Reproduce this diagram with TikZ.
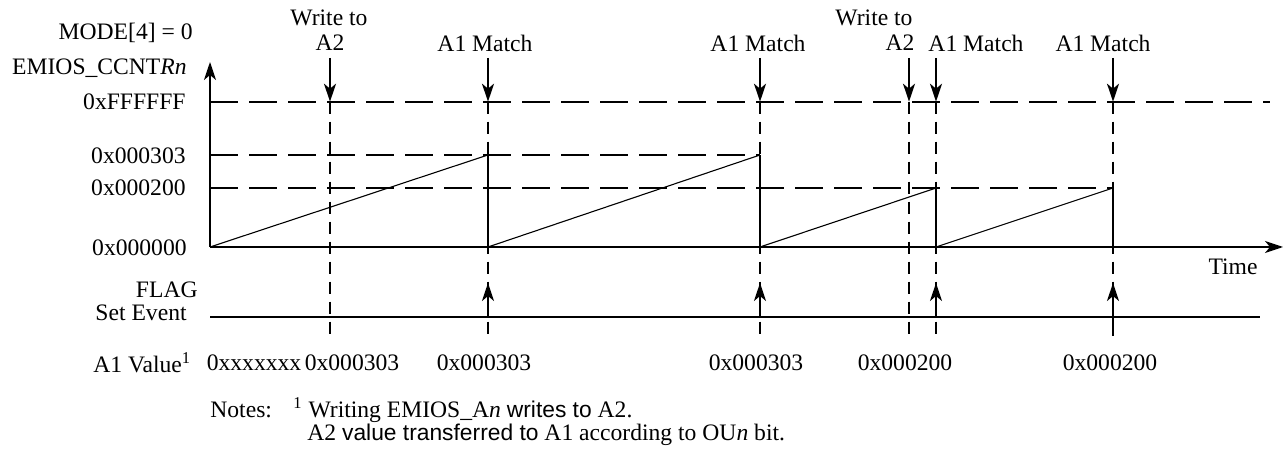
\documentclass[tikz,border=0pt]{standalone}
\usepackage{fontspec}
\setmainfont{Liberation Serif}
\newfontfamily\notesans{Liberation Sans}
\usetikzlibrary{arrows.meta,positioning}
\tikzset{
  axisline/.style={line width=1pt},
  ramp/.style={line width=0.55pt},
  level/.style={line width=1pt, dash pattern=on 14pt off 5.5pt},
  eventline/.style={line width=1pt, dash pattern=on 6pt off 4pt},
  evarrow/.style={-{Stealth[length=9pt, width=6pt, inset=2.5pt]}, line width=1pt},
  lbl/.style={inner sep=0pt, font=\fontsize{11.8}{12.5}\selectfont},
  ylbl/.style={lbl, anchor=east},
  notelbl/.style={lbl, anchor=west}
}

\begin{document}
\begin{tikzpicture}[x=0.5pt, y=-0.5pt]
\useasboundingbox (0,0) rectangle (1283,458);
% levels and events
\coordinate (origin) at (210,247);
\coordinate (ymax) at (210,62);
\coordinate (tmax) at (1283,247);
\coordinate (top) at (0,58);
\coordinate (ff) at (0,101.7);
\coordinate (ffR) at (1270,101.7);
\coordinate (h303) at (0,155);
\coordinate (h200) at (0,188);
\coordinate (flag) at (0,317);
\coordinate (flagR) at (1260,317);
\coordinate (ftip) at (0,283);
\coordinate (low) at (0,336);
\coordinate (wrA) at (330,247);
\coordinate (mtA) at (488,247);
\coordinate (mtB) at (760,247);
\coordinate (wrB) at (909,247);
\coordinate (mtC) at (936,247);
\coordinate (mtD) at (1113,247);

% y axis labels
\node[ylbl] (mode) at (193,33) {MODE[4] = 0};
\node[ylbl] (ccntr) at (187,68) {EMIOS\_CCNT\textit{Rn}};
\node[ylbl] (vff) at (186,101.7) {0xFFFFFF};
\node[ylbl] (v303) at (186,156) {0x000303};
\node[ylbl] (v200) at (186,188) {0x000200};
\node[ylbl] (v000) at (187,248) {0x000000};
\node[ylbl] (flagtxt) at (198,290) {FLAG};
\node[ylbl] (settxt) at (187,313) {Set Event};
\node[lbl] (time) at (1233,267) {Time};

% event labels
\node[lbl] (wrAtxt) at (329,18) {Write to};
\node[lbl] (wrAa2) at (330,43) {A2};
\node[lbl] (mtAtxt) at (485,43) {A1 Match};
\node[lbl] (mtBtxt) at (758,43) {A1 Match};
\node[lbl] (wrBtxt) at (874,18) {Write to};
\node[lbl] (wrBa2) at (900,43) {A2};
\node[lbl] (mtCtxt) at (976,43) {A1 Match};
\node[lbl] (mtDtxt) at (1103,43) {A1 Match};

% level lines
\draw[level] (origin |- ff) -- (ffR);
\draw[level] (origin |- h303) -- (mtB |- h303);
\draw[level] (origin |- h200) -- (mtD |- h200);

% event lines
\draw[eventline] (wrA |- ff) -- (wrA |- low);
\draw[eventline] (mtA |- ff) -- (mtA |- low);
\draw[eventline] (mtB |- ff) -- (mtB |- low);
\draw[eventline] (wrB |- ff) -- (wrB |- low);
\draw[eventline] (mtC |- ff) -- (mtC |- low);
\draw[eventline] (mtD |- ff) -- (mtD |- low);

\draw[evarrow] (wrA |- top) -- (wrA |- ff);
\draw[evarrow] (mtA |- top) -- (mtA |- ff);
\draw[evarrow] (mtB |- top) -- (mtB |- ff);
\draw[evarrow] (wrB |- top) -- (wrB |- ff);
\draw[evarrow] (mtC |- top) -- (mtC |- ff);
\draw[evarrow] (mtD |- top) -- (mtD |- ff);

% counter
\draw[ramp] (origin) -- (mtA |- h303);
\draw[ramp] (mtA) -- (mtB |- h303);
\draw[ramp] (mtB) -- (mtC |- h200);
\draw[ramp] (mtC) -- (mtD |- h200);
\draw[axisline] (mtA |- h303) -- (mtA);
\draw[axisline] (mtB |- h303) -- (mtB);
\draw[axisline] (mtC |- h200) -- (mtC);
\draw[axisline] (mtD |- h200) -- (mtD);

% axes
\draw[axisline, -{Stealth[length=9pt, width=6pt, inset=2.5pt]}] (origin) -- (ymax);
\draw[axisline, -{Stealth[length=9pt, width=6pt, inset=2.5pt]}] (origin) -- (tmax);

% flag
\draw[axisline] (origin |- flag) -- (flagR);
\draw[evarrow] (mtA |- flag) -- (mtA |- ftip);
\draw[evarrow] (mtB |- flag) -- (mtB |- ftip);
\draw[evarrow] (mtC |- flag) -- (mtC |- ftip);
\draw[evarrow] (mtD |- low) -- (mtD |- ftip);

% A1 values
\node[notelbl] (a1val) at (93,363) {A1 Value\textsuperscript{1}};
\node[lbl] (val0) at (254,363) {0xxxxxxx};
\node[lbl] (val1) at (352,363) {0x000303};
\node[lbl] (val2) at (484,363) {0x000303};
\node[lbl] (val3) at (756,363) {0x000303};
\node[lbl] (val4) at (905,363) {0x000200};
\node[lbl] (val5) at (1110,363) {0x000200};

% notes
\node[notelbl] (notes) at (210,410) {Notes:};
\node[notelbl] (note1) at (293,410) {\textsuperscript{1} Writing EMIOS\_A\textit{n} {\notesans\fontsize{11.4}{12}\selectfont writes to} A2.};
\node[notelbl] (note2) at (307,435) {A2 {\notesans\fontsize{11.4}{12}\selectfont value transferred to} A1 according to OU\textit{n} bit.};
\end{tikzpicture}
\end{document}
